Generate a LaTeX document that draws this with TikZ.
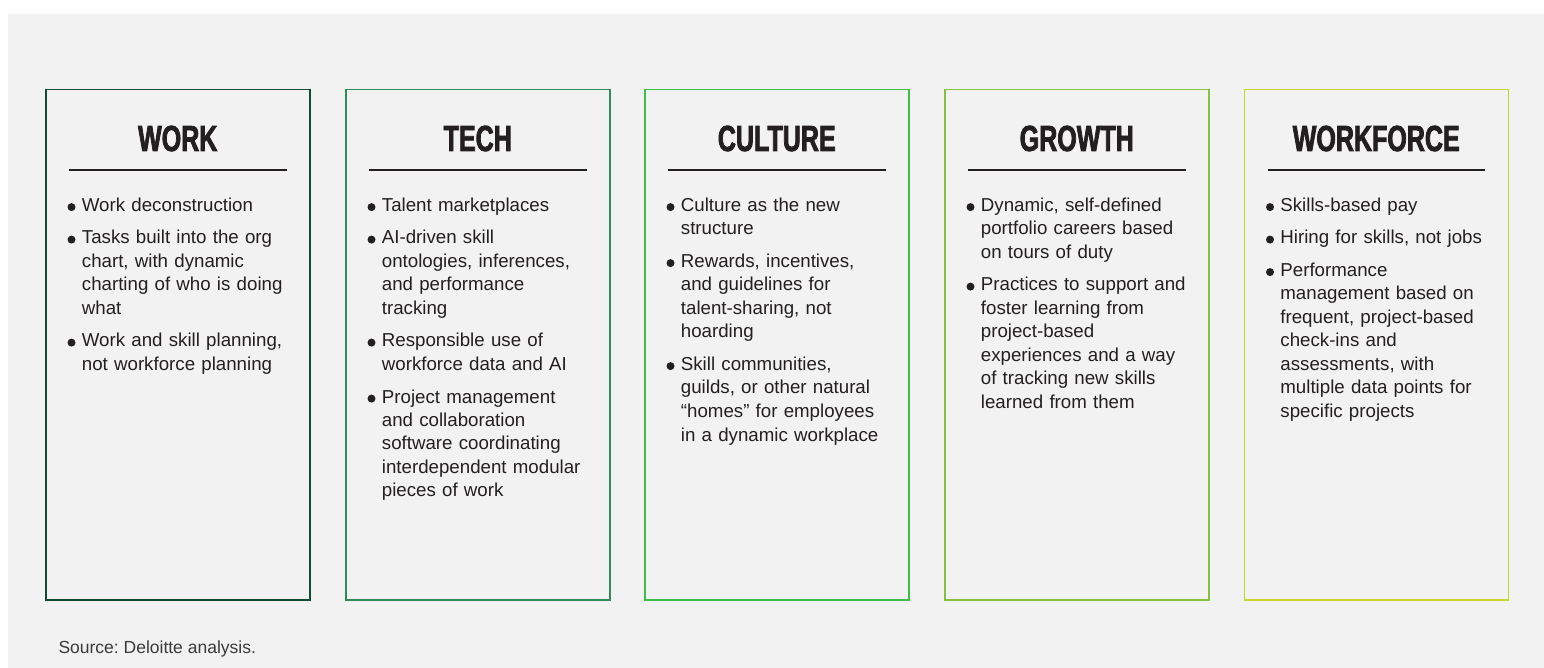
\documentclass[tikz,border=0pt]{standalone}
\usepackage{fontspec}
\setmainfont{Liberation Sans}
\newfontfamily\titlefont[FakeStretch=0.69,FakeBold=2]{Liberation Sans Bold}
\usetikzlibrary{calc}
\definecolor{ink}{HTML}{231F20}
\definecolor{bggray}{HTML}{F2F2F2}
\definecolor{srcgray}{HTML}{3A3A3A}
\definecolor{cwork}{HTML}{0F4D32}
\definecolor{ctech}{HTML}{2E8B5A}
\definecolor{cculture}{HTML}{3DBE4B}
\definecolor{cgrowth}{HTML}{86C040}
\definecolor{cworkforce}{HTML}{C4D62E}
\frenchspacing
\newcommand\bul{\tikz[baseline=-4.4pt,x=1pt,y=1pt]\fill[ink] (0,0) circle (4pt);}
\newcommand\fitem{\hangindent=14.4pt\hangafter=1\noindent\hbox to 14.4pt{\bul\hfil}}
\newcommand\bitem{\par\fitem}
\tikzset{
  panel/.style={draw=#1, line width=1.5pt, inner sep=0pt, minimum width=264pt, minimum height=510pt, anchor=north west},
  ttl/.style={font=\titlefont\fontsize{36.3}{40}\selectfont, text=ink, anchor=base, inner sep=0pt},
  rulel/.style={draw=ink, line width=1.2pt},
  body/.style={anchor=base west, inner sep=0pt, text width=250pt, text=ink,
    font=\fontsize{18.7}{23.5}\selectfont\setlength\parskip{9pt}\raggedright\frenchspacing},
}
\begin{document}
\begin{tikzpicture}[x=1pt,y=-1pt]
\useasboundingbox (0,0) rectangle (1544,668);
\fill[white] (0,0) rectangle (1544,668);
\fill[bggray] (8,14) rectangle (1544,668);
% panels
\node (p1) [panel=cwork] at (45,89) {};
\node (p2) [panel=ctech] at (345,89) {};
\node (p3) [panel=cculture] at (644,89) {};
\node (p4) [panel=cgrowth] at (944,89) {};
\node (p5) [panel=cworkforce] at (1243.5,89) {};
% titles
\foreach \p/\t in {p1/WORK,p2/TECH,p3/CULTURE,p4/GROWTH,p5/WORKFORCE}{
  \node (t-\p) [ttl] at ($(\p.north)+(0,62)$) {\t};
  \draw[rulel] ($(\p.north west)+(24,81)$) -- ($(\p.north east)+(-24,81)$);
}
% bodies
\node (b1) [body] at ($(p1.north west)+(22.3,122.5)$) {%
\fitem Work deconstruction
\bitem Tasks built into the org\newline chart, with dynamic\newline charting of who is doing\newline what
\bitem Work and skill planning,\newline not workforce planning\par};
\node (b2) [body] at ($(p2.north west)+(22.3,122.5)$) {%
\fitem Talent marketplaces
\bitem AI-driven skill\newline ontologies, inferences,\newline and performance\newline tracking
\bitem Responsible use of\newline workforce data and AI
\bitem Project management\newline and collaboration\newline software coordinating\newline interdependent modular\newline pieces of work\par};
\node (b3) [body] at ($(p3.north west)+(22.3,122.5)$) {%
\fitem Culture as the new\newline structure
\bitem Rewards, incentives,\newline and guidelines for\newline talent-sharing, not\newline hoarding
\bitem Skill communities,\newline guilds, or other natural\newline “homes” for employees\newline in a dynamic workplace\par};
\node (b4) [body] at ($(p4.north west)+(22.3,122.5)$) {%
\fitem Dynamic, self-defined\newline portfolio careers based\newline on tours of duty
\bitem Practices to support and\newline foster learning from\newline project-based\newline experiences and a way\newline of tracking new skills\newline learned from them\par};
\node (b5) [body] at ($(p5.north west)+(22.3,122.5)$) {%
\fitem Skills-based pay
\bitem Hiring for skills, not jobs
\bitem Performance\newline management based on\newline frequent, project-based\newline check-ins and\newline assessments, with\newline multiple data points for\newline specific projects\par};
\node (src) [anchor=base west, inner sep=0pt, text=srcgray, font=\fontsize{17.5}{20}\selectfont] at (58.3,653.3) {Source: Deloitte analysis.};
\end{tikzpicture}
\end{document}
